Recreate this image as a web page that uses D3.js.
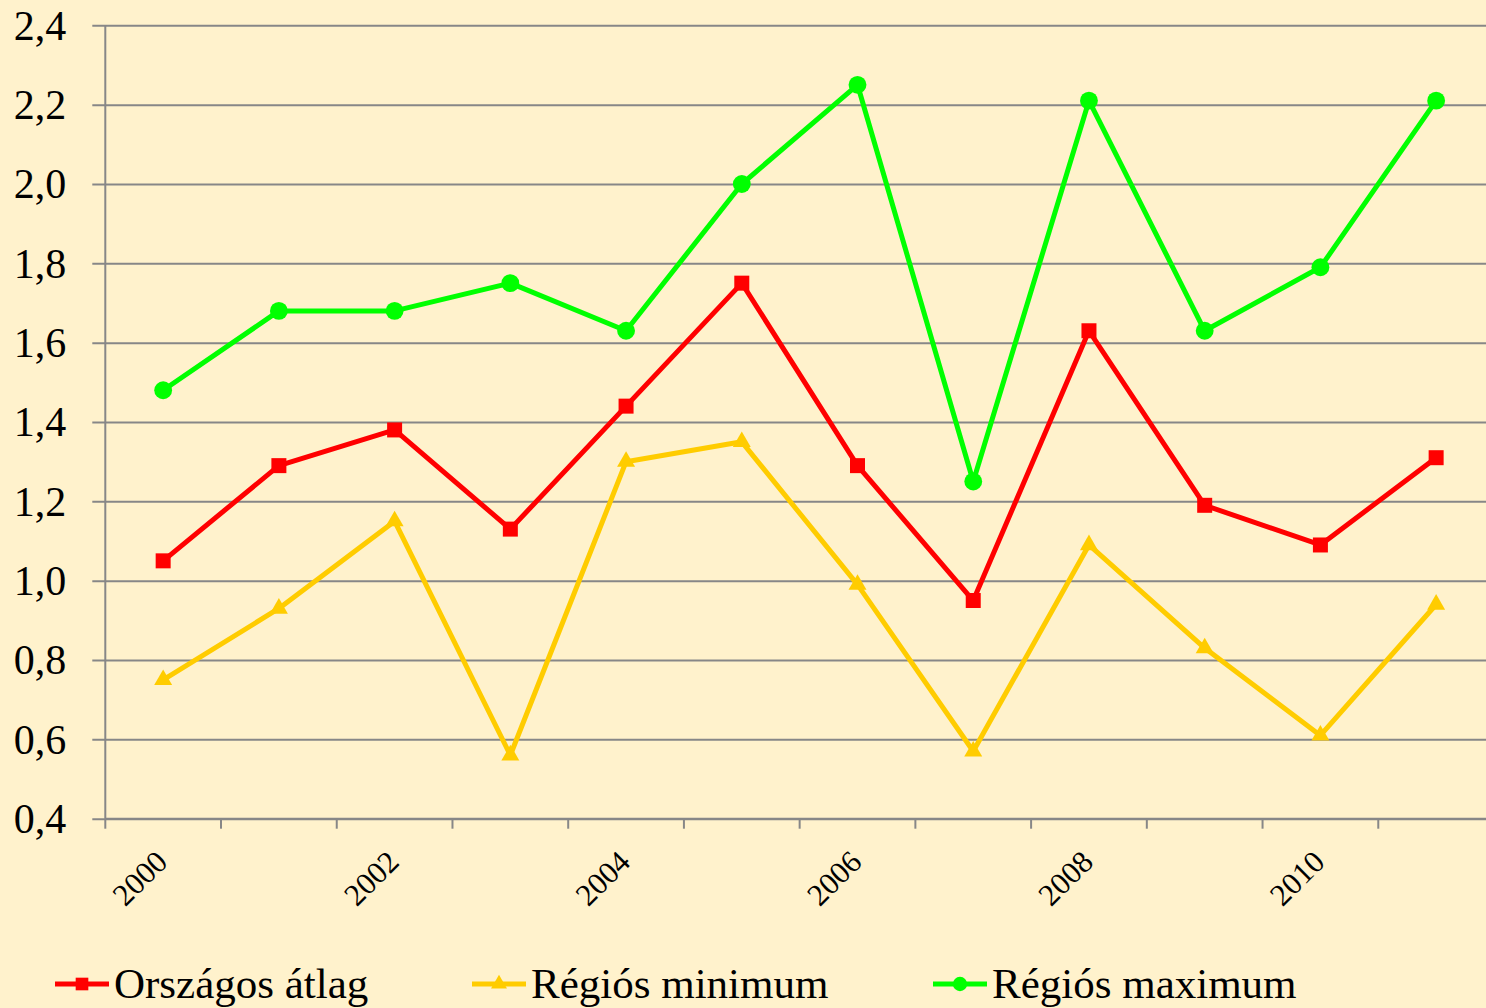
<!DOCTYPE html>
<html>
<head>
<meta charset="utf-8">
<script src="https://cdn.jsdelivr.net/npm/d3@7"></script>
<style>
  html, body { margin: 0; padding: 0; background: #FFF2CC; overflow: hidden; }
  svg { display: block; }
</style>
</head>
<body>
<svg id="chart" width="1486" height="1008"></svg>
<script>
var years = [2000, 2001, 2002, 2003, 2004, 2005, 2006, 2007, 2008, 2009, 2010, 2011]
var atlag = [1.05, 1.29, 1.38, 1.13, 1.44, 1.75, 1.29, 0.95, 1.63, 1.19, 1.09, 1.31]
var minimum = [0.75, 0.93, 1.15, 0.56, 1.30, 1.35, 0.99, 0.57, 1.09, 0.83, 0.61, 0.94]
var maximum = [1.48, 1.68, 1.68, 1.75, 1.63, 2.00, 2.25, 1.25, 2.21, 1.63, 1.79, 2.21]
var yTicks = [0.4, 0.6, 0.8, 1.0, 1.2, 1.4, 1.6, 1.8, 2.0, 2.2, 2.4]
var labelYears = [2000, 2002, 2004, 2006, 2008, 2010]

var series = [
  {name: 'Országos átlag', values: atlag, color: '#FF0000', symbol: d3.symbolSquare},
  {name: 'Régiós minimum', values: minimum, color: '#FFCC00', symbol: d3.symbolTriangle},
  {name: 'Régiós maximum', values: maximum, color: '#00FF00', symbol: d3.symbolCircle}
]

var svg = d3.select('#chart'),
  margin = {top: 25.3, left: 105.3},
  plotRight = 1494,
  plotBottom = 818.7

svg.append('rect').attr('width', 1486).attr('height', 1008).attr('fill', '#FFF2CC')

var x = d3.scaleBand().domain(years).range([margin.left, plotRight]),
  y = d3.scaleLinear().domain([0.4, 2.4]).range([plotBottom, margin.top])

var font = 'Liberation Serif, Times New Roman, serif'
var gray = '#878787'

// horizontal grid + y axis
var yAxis = svg.append('g')
  .attr('transform', 'translate(' + margin.left + ',0)')
  .call(d3.axisLeft(y).tickValues(yTicks).tickSize(-(plotRight - margin.left)).tickPadding(39)
    .tickFormat(d => d3.format('.1f')(d).replace('.', ',')))
yAxis.select('.domain').remove()
yAxis.selectAll('.tick line').attr('stroke', gray).attr('stroke-width', 2).attr('x1', -13)
yAxis.selectAll('.tick text')
  .attr('font-family', font).attr('font-size', 42).attr('fill', '#000').attr('dy', '0.33em')

svg.append('line')
  .attr('x1', margin.left).attr('x2', margin.left)
  .attr('y1', margin.top).attr('y2', plotBottom)
  .attr('stroke', gray).attr('stroke-width', 2)

// x axis: ticks between categories
var bounds = years.map(d => x(d)).concat([plotRight])
var xAxis = svg.append('g')
svg.append('line')
  .attr('x1', margin.left).attr('x2', plotRight)
  .attr('y1', plotBottom).attr('y2', plotBottom)
  .attr('stroke', gray).attr('stroke-width', 2)
xAxis.selectAll('line.tk')
  .data(bounds)
  .enter().append('line')
  .attr('class', 'tk')
  .attr('x1', d => d).attr('x2', d => d)
  .attr('y1', plotBottom).attr('y2', plotBottom + 10)
  .attr('stroke', gray).attr('stroke-width', 2)

xAxis.selectAll('text')
  .data(labelYears)
  .enter().append('text')
  .attr('transform', d => 'translate(' + (x(d) + x.bandwidth() / 2 + 6) + ',' + (plotBottom + 45) + ') rotate(-45)')
  .attr('text-anchor', 'end')
  .attr('font-family', font).attr('font-size', 31).attr('fill', '#000')
  .text(d => d)

// lines + markers
var line = d3.line()
  .x((d, i) => x(years[i]) + x.bandwidth() / 2)
  .y(d => y(d))

var markerSize = {square: 225, triangle: 140, circle: 250}

series.forEach(function(s) {
  svg.append('path')
    .datum(s.values)
    .attr('d', line)
    .attr('fill', 'none')
    .attr('stroke', s.color)
    .attr('stroke-width', 5)
    .attr('stroke-linejoin', 'round')

  var size = s.symbol === d3.symbolTriangle ? markerSize.triangle : (s.symbol === d3.symbolSquare ? markerSize.square : markerSize.circle)
  svg.append('g').selectAll('path')
    .data(s.values)
    .enter().append('path')
    .attr('transform', (d, i) => 'translate(' + (x(years[i]) + x.bandwidth() / 2) + ',' + y(d) + ')')
    .attr('d', d3.symbol().type(s.symbol).size(size))
    .attr('fill', s.color)
})

// legend
var legendX = [55, 472, 933]
var legend = svg.append('g').selectAll('g')
  .data(series)
  .enter().append('g')
  .attr('transform', (d, i) => 'translate(' + legendX[i] + ',984)')
legend.append('line')
  .attr('x1', 0).attr('x2', 54).attr('y1', 0).attr('y2', 0)
  .attr('stroke', d => d.color).attr('stroke-width', 5)
legend.append('path')
  .attr('transform', 'translate(27,0)')
  .attr('d', d => d3.symbol().type(d.symbol).size(d.symbol === d3.symbolTriangle ? 110 : 160)())
  .attr('fill', d => d.color)
legend.append('text')
  .attr('x', 59).attr('y', 14)
  .attr('font-family', font).attr('font-size', 43).attr('fill', '#000')
  .text(d => d.name)
</script>
</body>
</html>
